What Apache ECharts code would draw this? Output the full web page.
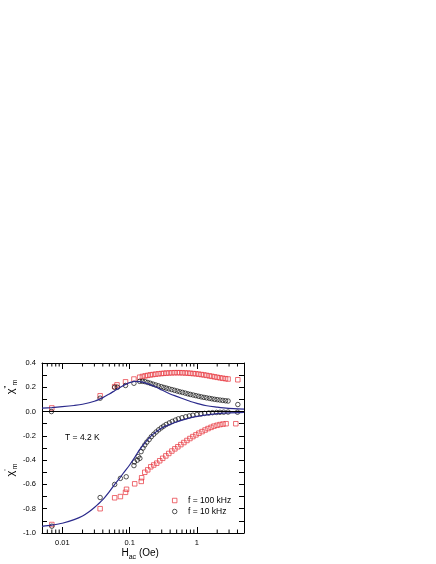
<!DOCTYPE html>
<html>
<head>
<meta charset="utf-8">
<script src="https://cdn.jsdelivr.net/npm/echarts@6/dist/echarts.min.js"></script>
<style>
  body { margin: 0; background: #fff; }
  #chart { width: 436px; height: 564px; }
</style>
</head>
<body>
<div id="chart"></div>
<script>
// f = 100 kHz, chi'' (top) and chi' (bottom)
const sq100Imag = [
  [0.007, 0.03], [0.0365, 0.13], [0.060, 0.205], [0.065, 0.22], [0.087, 0.245],
  [0.116, 0.268], [0.141, 0.283], [0.155, 0.289], [0.170, 0.294], [0.186, 0.298],
  [0.203, 0.302], [0.222, 0.305], [0.244, 0.308], [0.268, 0.311], [0.295, 0.313],
  [0.322, 0.315], [0.352, 0.317], [0.385, 0.318], [0.424, 0.319], [0.465, 0.32],
  [0.51, 0.32], [0.557, 0.32], [0.61, 0.319], [0.67, 0.318], [0.734, 0.317],
  [0.80, 0.315], [0.88, 0.313], [0.966, 0.311], [1.06, 0.308], [1.16, 0.305],
  [1.27, 0.302], [1.39, 0.298], [1.53, 0.294], [1.67, 0.290], [1.83, 0.286],
  [2.0, 0.282], [2.2, 0.278], [2.42, 0.274], [2.66, 0.271], [2.9, 0.268], [4.05, 0.262]
];
const sq100Real = [
  [0.007, -0.93], [0.0365, -0.80], [0.060, -0.71], [0.073, -0.70], [0.087, -0.665],
  [0.090, -0.64], [0.119, -0.595], [0.149, -0.575], [0.151, -0.545], [0.168, -0.50],
  [0.186, -0.48], [0.206, -0.455], [0.228, -0.44], [0.253, -0.425], [0.28, -0.405],
  [0.31, -0.385], [0.345, -0.365], [0.382, -0.345], [0.424, -0.325], [0.47, -0.307],
  [0.52, -0.29], [0.577, -0.272], [0.64, -0.255], [0.71, -0.238], [0.786, -0.222],
  [0.87, -0.206], [0.966, -0.192], [1.07, -0.178], [1.19, -0.165], [1.32, -0.152],
  [1.46, -0.14], [1.62, -0.13], [1.79, -0.12], [1.99, -0.113], [2.2, -0.107],
  [2.44, -0.103], [2.71, -0.10], [3.78, -0.10]
];
// f = 10 kHz
const ci10Imag = [
  [0.0069, 0.0], [0.0365, 0.11], [0.060, 0.20], [0.066, 0.20], [0.087, 0.215],
  [0.116, 0.233], [0.141, 0.249], [0.155, 0.249], [0.170, 0.246], [0.186, 0.240],
  [0.203, 0.233], [0.222, 0.226], [0.244, 0.219], [0.268, 0.212], [0.295, 0.205],
  [0.322, 0.199], [0.352, 0.193], [0.385, 0.187], [0.424, 0.181], [0.465, 0.175],
  [0.51, 0.169], [0.557, 0.163], [0.61, 0.158], [0.67, 0.152], [0.734, 0.146],
  [0.80, 0.141], [0.88, 0.136], [0.966, 0.131], [1.06, 0.126], [1.16, 0.121],
  [1.27, 0.117], [1.39, 0.113], [1.53, 0.109], [1.67, 0.105], [1.83, 0.101],
  [2.0, 0.098], [2.2, 0.095], [2.42, 0.092], [2.66, 0.089], [2.9, 0.087], [4.05, 0.058]
];
const ci10Real = [
  [0.0070, -0.944], [0.0365, -0.708], [0.060, -0.60], [0.073, -0.55], [0.089, -0.537],
  [0.116, -0.445], [0.118, -0.415], [0.130, -0.40], [0.134, -0.37], [0.142, -0.385],
  [0.148, -0.33], [0.158, -0.30], [0.168, -0.275], [0.18, -0.252], [0.195, -0.23],
  [0.21, -0.207], [0.228, -0.187], [0.248, -0.168], [0.27, -0.15], [0.295, -0.134],
  [0.32, -0.12], [0.35, -0.106], [0.39, -0.093], [0.43, -0.081], [0.48, -0.07],
  [0.53, -0.06], [0.6, -0.051], [0.68, -0.043], [0.77, -0.036], [0.87, -0.03],
  [1.0, -0.024], [1.15, -0.019], [1.3, -0.015], [1.5, -0.012], [1.7, -0.009],
  [1.95, -0.007], [2.2, -0.006], [2.5, -0.005], [2.9, -0.004], [4.0, -0.005]
];
// model curves
const fitImag = [
  [0.005, 0.028], [0.007, 0.033], [0.01, 0.04], [0.015, 0.05], [0.02, 0.06],
  [0.03, 0.085], [0.04, 0.115], [0.05, 0.145], [0.06, 0.172], [0.07, 0.195],
  [0.08, 0.213], [0.09, 0.228], [0.1, 0.238], [0.12, 0.248], [0.14, 0.247],
  [0.16, 0.24], [0.2, 0.222], [0.25, 0.2], [0.3, 0.178], [0.4, 0.145],
  [0.5, 0.125], [0.7, 0.095], [0.8, 0.083], [1.0, 0.068], [1.4, 0.048],
  [2.0, 0.036], [2.5, 0.03], [3.5, 0.024], [5.0, 0.02]
];
const fitReal = [
  [0.005, -0.945], [0.007, -0.935], [0.01, -0.92], [0.015, -0.89], [0.02, -0.86],
  [0.025, -0.825], [0.03, -0.79], [0.04, -0.725], [0.05, -0.66], [0.06, -0.60],
  [0.07, -0.555], [0.08, -0.51], [0.1, -0.44], [0.12, -0.375], [0.14, -0.315],
  [0.17, -0.255], [0.2, -0.21], [0.25, -0.165], [0.3, -0.135], [0.4, -0.105],
  [0.5, -0.085], [0.7, -0.06], [1.0, -0.04], [1.5, -0.025], [2.0, -0.017],
  [3.0, -0.01], [5.0, -0.006]
];
const minorTicksX = [0.006, 0.007, 0.008, 0.009, 0.02, 0.03, 0.04, 0.05, 0.06, 0.07, 0.08, 0.09,
  0.2, 0.3, 0.4, 0.5, 0.6, 0.7, 0.8, 0.9, 2, 3, 4];

const FONT = 'Liberation Sans, Arial, sans-serif';
const RED = '#e8343c';
const BLUE = '#2b2a8c';

const chart = echarts.init(document.getElementById('chart'));

const logX = (pos, showLabels) => ({
  type: 'log', logBase: 10, min: 0.005, max: 5, position: pos,
  axisLine: { show: true, onZero: false, lineStyle: { color: '#000', width: 1 } },
  axisTick: { show: true, inside: true, length: 6, lineStyle: { color: '#000' } },
  splitLine: { show: false },
  axisLabel: {
    show: showLabels, color: '#000', fontFamily: FONT, fontSize: 7.5, margin: 6,
    formatter: (v) => {
      const l = Math.log10(v);
      return Math.abs(l - Math.round(l)) < 1e-6 ? String(+v.toPrecision(3)) : '';
    }
  }
});
const linY = (pos, showLabels) => ({
  type: 'value', min: -1, max: 0.4, interval: 0.2, position: pos,
  axisLine: { show: true, onZero: false, lineStyle: { color: '#000', width: 1 } },
  axisTick: { show: true, inside: true, length: 5, lineStyle: { color: '#000' } },
  minorTick: { show: true, splitNumber: 2, length: 5, lineStyle: { color: '#000' } },
  splitLine: { show: false },
  axisLabel: {
    show: showLabels, color: '#000', fontFamily: FONT, fontSize: 7.5, margin: 6,
    formatter: (v) => v.toFixed(1)
  }
});

const sqStyle = { color: 'rgba(0,0,0,0)', borderColor: RED, borderWidth: 0.9 };
const ciStyle = { color: 'rgba(0,0,0,0)', borderColor: '#111', borderWidth: 0.9 };

chart.setOption({
  animation: false,
  textStyle: { fontFamily: FONT },
  grid: { left: 42, top: 363, width: 202, height: 170 },
  xAxis: [logX('bottom', true), logX('top', false)],
  yAxis: [linY('left', true), linY('right', false)],
  legend: {
    left: 167, top: 491, orient: 'vertical',
    itemWidth: 4.5, itemHeight: 4.5, itemGap: 2,
    textStyle: { fontSize: 8.5, color: '#000', fontFamily: FONT, padding: [0, 0, 0, 6] },
    data: [
      { name: 'f = 100 kHz', icon: 'rect', itemStyle: sqStyle },
      { name: 'f = 10 kHz', icon: 'circle', itemStyle: ciStyle }
    ]
  },
  graphic: [
    {
      type: 'text', x: 11, y: 387, rotation: Math.PI / 2,
      style: {
        text: '{a|χ}{p|"}{s|m}', align: 'center', verticalAlign: 'middle',
        rich: {
          a: { fontSize: 11, lineHeight: 16, verticalAlign: 'middle', fontFamily: FONT },
          p: { fontSize: 8, lineHeight: 8, verticalAlign: 'top', fontFamily: FONT },
          s: { fontSize: 7, lineHeight: 8, verticalAlign: 'bottom', fontFamily: FONT }
        }
      }
    },
    {
      type: 'text', x: 11, y: 470, rotation: Math.PI / 2,
      style: {
        text: "{a|χ}{p|'}{s|m}", align: 'center', verticalAlign: 'middle',
        rich: {
          a: { fontSize: 11, lineHeight: 16, verticalAlign: 'middle', fontFamily: FONT },
          p: { fontSize: 8, lineHeight: 8, verticalAlign: 'top', fontFamily: FONT },
          s: { fontSize: 7, lineHeight: 8, verticalAlign: 'bottom', fontFamily: FONT }
        }
      }
    },
    {
      type: 'text', x: 121.5, y: 553.5,
      style: {
        text: '{a|H}{s|ac}{a| (Oe)}', align: 'left', verticalAlign: 'middle',
        rich: {
          a: { fontSize: 10, lineHeight: 14, verticalAlign: 'middle', fontFamily: FONT },
          s: { fontSize: 7, lineHeight: 7, verticalAlign: 'bottom', fontFamily: FONT }
        }
      }
    },
    {
      type: 'text', x: 65, y: 438,
      style: { text: 'T = 4.2 K', fontSize: 8.5, fontFamily: FONT, fill: '#000', verticalAlign: 'middle' }
    }
  ],
  series: [
    {
      type: 'custom', silent: true, xAxisIndex: 0, yAxisIndex: 0,
      data: minorTicksX.map((v) => [v]),
      encode: { x: 0 },
      renderItem: (params, api) => {
        const b = api.coord([api.value(0), -1]);
        const t = api.coord([api.value(0), 0.4]);
        return {
          type: 'group',
          children: [
            { type: 'line', shape: { x1: b[0], y1: b[1], x2: b[0], y2: b[1] - 3.5 }, style: { stroke: '#000', lineWidth: 1 } },
            { type: 'line', shape: { x1: t[0], y1: t[1], x2: t[0], y2: t[1] + 3.5 }, style: { stroke: '#000', lineWidth: 1 } }
          ]
        };
      }
    },
    {
      name: 'fit imag', type: 'line', data: fitImag, smooth: 0.3, showSymbol: false,
      lineStyle: { color: BLUE, width: 1.2 },
      markLine: {
        silent: true, symbol: ['none', 'none'], label: { show: false },
        lineStyle: { color: '#000', width: 1, type: 'solid' },
        data: [{ yAxis: 0 }]
      }
    },
    {
      name: 'fit real', type: 'line', data: fitReal, smooth: 0.3, showSymbol: false,
      lineStyle: { color: BLUE, width: 1.2 }
    },
    { name: 'f = 100 kHz', type: 'scatter', data: sq100Imag, symbol: 'rect', symbolSize: 4.5, itemStyle: sqStyle },
    { name: 'f = 100 kHz', type: 'scatter', data: sq100Real, symbol: 'rect', symbolSize: 4.5, itemStyle: sqStyle },
    { name: 'f = 10 kHz', type: 'scatter', data: ci10Imag, symbol: 'circle', symbolSize: 4.5, itemStyle: ciStyle },
    { name: 'f = 10 kHz', type: 'scatter', data: ci10Real, symbol: 'circle', symbolSize: 4.5, itemStyle: ciStyle }
  ]
});
</script>
</body>
</html>
